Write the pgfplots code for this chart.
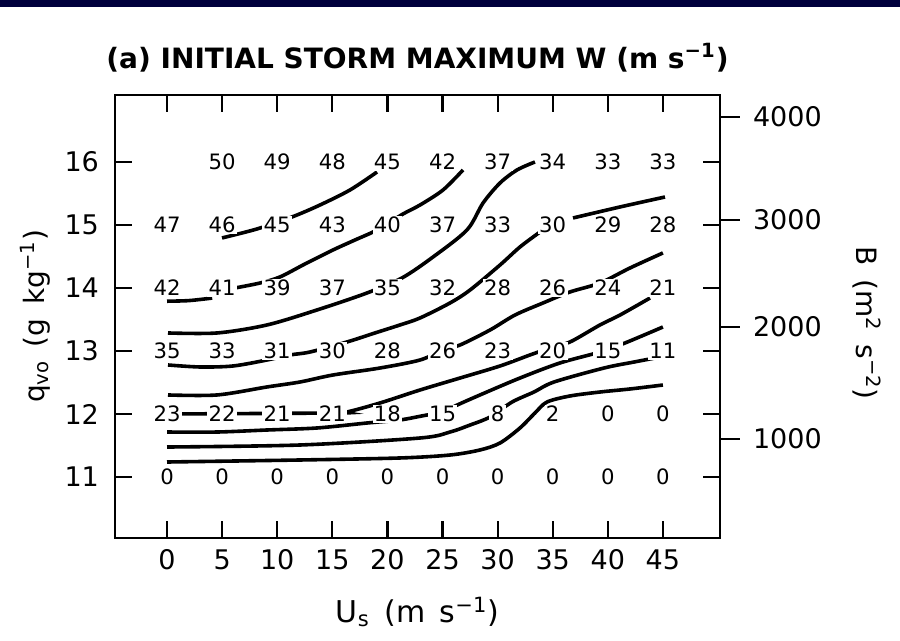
\documentclass[border=0pt]{standalone}
\usepackage{fontspec}
\setmainfont{DejaVu Sans}
\usepackage{pgfplots}
\usepackage{pgfplotstable}
\pgfplotsset{compat=1.18}
\definecolor{navyband}{RGB}{0,0,60}

\pgfplotstableread{
x y w
5 16 50
10 16 49
15 16 48
20 16 45
25 16 42
30 16 37
35 16 34
40 16 33
45 16 33
0 15 47
5 15 46
10 15 45
15 15 43
20 15 40
25 15 37
30 15 33
35 15 30
40 15 29
45 15 28
0 14 42
5 14 41
10 14 39
15 14 37
20 14 35
25 14 32
30 14 28
35 14 26
40 14 24
45 14 21
0 13 35
5 13 33
10 13 31
15 13 30
20 13 28
25 13 26
30 13 23
35 13 20
40 13 15
45 13 11
0 12 23
5 12 22
10 12 21
15 12 21
20 12 18
25 12 15
30 12 8
35 12 2
40 12 0
45 12 0
0 11 0
5 11 0
10 11 0
15 11 0
20 11 0
25 11 0
30 11 0
35 11 0
40 11 0
45 11 0
}\wgrid

\begin{document}
\begin{tikzpicture}
\useasboundingbox (-57.5pt,-51.5pt) rectangle (392.5pt,269pt);
\fill[navyband] (-57.5pt,265.6pt) rectangle (392.5pt,269pt);
\begin{axis}[
  scale only axis, width=302.5pt, height=221.5pt,
  xmin=-4.72, xmax=50.18, ymin=10.032, ymax=17.063,
  xtick={0,5,...,45}, ytick={11,...,16},
  tick align=inside, major tick length=8.5pt,
  tick style={line width=1.1pt, black},
  axis line style={line width=1.4pt},
  /pgf/number format/assume math mode=true,
  ticklabel style={font=\fontsize{13.5}{14}\selectfont},
  xticklabel style={yshift=-2.5pt, text height=9.8pt, text depth=0pt},
  yticklabel style={xshift=-4.5pt},
  title={\bfseries (a) INITIAL STORM MAXIMUM W (m s\textsuperscript{−1})},
  title style={at={(axis description cs:0.5,1.057)}, anchor=center, font=\fontsize{14}{15}\selectfont},
  xlabel={U\textsubscript{s}\, (m\, s\textsuperscript{−1})},
  xlabel style={at={(axis description cs:0.5,-0.167)}, anchor=center, font=\fontsize{15}{16}\selectfont},
  ylabel={q\textsubscript{vo}\, (g\, kg\textsuperscript{−1})},
  ylabel style={at={(axis description cs:-0.132,0.5)}, anchor=center, font=\fontsize{14}{15}\selectfont},
]
% contour lines
\addplot[black, line width=1.8pt, smooth, tension=0.5] coordinates {(4.99,14.794) (8.17,14.937) (11.34,15.127) (13.88,15.317) (16.61,15.556) (19.06,15.841)};
\addplot[black, line width=1.8pt, smooth, tension=0.5] coordinates {(6.17,14.0) (8.44,14.079) (10.25,14.175) (12.52,14.381) (15.06,14.603) (17.06,14.762) (19.06,14.921) (21.42,15.175) (22.96,15.317) (25.05,15.556) (26.86,15.873)};
\addplot[black, line width=1.8pt, smooth, tension=0.5] coordinates {(0,13.79) (2.0,13.80) (4.1,13.84)};
\addplot[black, line width=1.8pt, smooth, tension=0.5] coordinates {(0.09,13.286) (4.54,13.286) (9.07,13.413) (13.61,13.651) (18.15,13.921) (21.32,14.159) (24.14,14.492) (27.22,14.921) (28.68,15.349) (30.22,15.667) (31.76,15.873) (33.39,16.0)};
\addplot[black, line width=1.8pt, smooth, tension=0.5] coordinates {(0.09,12.778) (3.0,12.746) (5.99,12.762) (9.07,12.857) (11.16,12.937) (12.98,12.984) (16.33,13.143) (18.87,13.286) (21.14,13.413) (22.96,13.524) (25.68,13.762) (27.5,13.968) (30.22,14.365) (32.03,14.651) (33.85,14.889)};
\addplot[black, line width=1.8pt, smooth, tension=0.5] coordinates {(36.84,15.111) (41.11,15.286) (45.19,15.444)};
\addplot[black, line width=1.8pt, smooth, tension=0.5] coordinates {(0.09,12.302) (4.54,12.302) (9.07,12.429) (12.07,12.508) (15.06,12.619) (19.33,12.730) (22.96,12.857) (25.05,13.016) (26.59,13.095) (29.31,13.333) (31.58,13.571) (34.12,13.762) (36.57,13.937) (39.29,14.079) (42.01,14.317) (45.0,14.556)};
\addplot[black, line width=1.8pt, smooth, tension=0.5] coordinates {(0.09,12.0) (15.06,12.016) (16.33,12.032) (19.33,12.175) (22.96,12.381) (26.59,12.571) (30.22,12.762) (32.94,12.937) (34.76,13.048) (36.57,13.143) (39.29,13.413) (41.11,13.571) (43.83,13.841)};
\addplot[black, line width=1.8pt, smooth, tension=0.5] coordinates {(0,11.714) (4.54,11.714) (9.07,11.746) (13.61,11.778) (18.15,11.857) (21.14,11.905) (23.59,11.984) (25.05,12.016) (25.95,12.111) (28.40,12.302) (32.03,12.571) (35.66,12.810) (39.29,12.984) (41.56,13.127) (45.0,13.381)};
\addplot[black, line width=1.8pt, smooth, tension=0.5] coordinates {(0,11.476) (12.07,11.508) (22.96,11.619) (25.68,11.714) (27.5,11.825) (29.31,11.952) (31.31,12.190) (33.30,12.349) (35.12,12.508) (39.66,12.730) (42.38,12.825) (44.3,12.889)};
\addplot[black, line width=1.8pt, smooth, tension=0.5] coordinates {(0,11.238) (12.07,11.270) (21.14,11.302) (25.68,11.349) (28.40,11.429) (30.22,11.540) (32.03,11.778) (33.39,12.016) (34.48,12.190) (36.57,12.286) (39.29,12.349) (42.01,12.397) (45.0,12.460)};
% grid values
\addplot[only marks, mark=*, mark options={draw=none, fill=none},
  nodes near coords, point meta=explicit symbolic,
  nodes near coords align={center},
  every node near coord/.append style={anchor=center, fill=white, text=black, inner sep=0.7pt, font=\fontsize{10.6}{11}\selectfont}]
  table[x=x, y=y, meta=w] {\wgrid};
\end{axis}
\begin{axis}[
  scale only axis, width=302.5pt, height=221.5pt,
  xmin=-4.72, xmax=50.18, ymin=10.032, ymax=17.063,
  axis x line=none, axis y line*=right,
  axis line style={line width=1.4pt},
  ytick={16.714,15.079,13.381,11.603},
  yticklabels={4000,3000,2000,1000},
  tick align=outside, major tick length=10pt,
  tick style={line width=1.1pt, black},
  ticklabel style={font=\fontsize{13.5}{14}\selectfont},
  yticklabel style={xshift=3pt},
  ylabel={B\, (m\textsuperscript{2}\, s\textsuperscript{−2})},
  ylabel style={at={(axis description cs:1.243,0.485)}, anchor=center, rotate=180, font=\fontsize{14}{15}\selectfont},
]
\addplot[draw=none] coordinates {(0,11) (45,16)};
\end{axis}
\end{tikzpicture}
\end{document}
